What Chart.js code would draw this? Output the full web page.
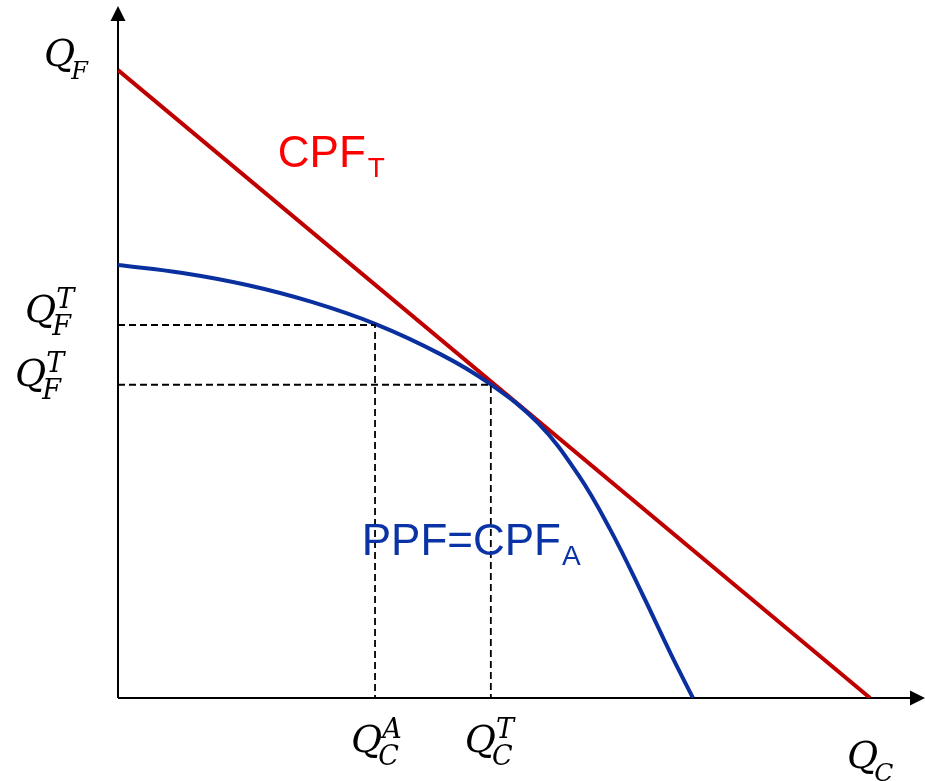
<!DOCTYPE html>
<html>
<head>
<meta charset="utf-8">
<script src="https://cdn.jsdelivr.net/npm/chart.js@4.4.1/dist/chart.umd.min.js"></script>
<style>
  html, body { margin: 0; padding: 0; background: #fff; }
  #wrap { width: 925px; height: 781px; position: relative; }
</style>
</head>
<body>
<div id="wrap"><canvas id="ppfChart"></canvas></div>
<script>
// production possibility frontier (autarky)
var ppfX = [0, 8, 16, 24, 32, 40, 46, 52, 57, 61, 65, 68.5, 71.25];
var ppfY = [62.75, 61.6, 59.85, 57.4, 54.15, 49.8, 45.6, 39.9, 32.4, 24.4, 15.0, 6.4, 0];

// consumption possibility frontier with trade (straight line)
var cpfX = [0, 93.2];
var cpfY = [91.0, 0];

// autarky and trade points (dashed guides)
var autarky = { x: 31.85, y: 54.06 };
var trade = { x: 46.2, y: 45.4 };

// turn x/y arrays into points for the scatter chart
function toPoints(xs, ys) {
  var pts = [];
  for (var i = 0; i < xs.length; i++) {
    pts.push({ x: xs[i], y: ys[i] });
  }
  return pts;
}

function guide(p) {
  return [{ x: 0, y: p.y }, { x: p.x, y: p.y }, { x: p.x, y: 0 }];
}

var mathFont = "italic 38px 'DejaVu Serif', serif";
var scriptFont = "italic 27px 'DejaVu Serif', serif";

// Q with sup/sub scripts, left edge x, baseline y
function drawQ(ctx, x, y, sup, sub, subFont) {
  ctx.font = mathFont;
  ctx.fillText("Q", x, y);
  var w = ctx.measureText("Q").width;
  ctx.font = subFont || scriptFont;
  if (sup) ctx.fillText(sup, x + w, y - 14);
  if (sub) ctx.fillText(sub, x + w - 4, y + 13);
}

var axesAndLabels = {
  id: "axesAndLabels",
  beforeDatasetsDraw: function (chart) {
    var ctx = chart.ctx;
    var xs = chart.scales.x, ys = chart.scales.y;
    var ox = xs.getPixelForValue(0), oy = ys.getPixelForValue(0);
    var area = chart.chartArea;
    ctx.save();
    ctx.strokeStyle = "#000";
    ctx.fillStyle = "#000";
    ctx.lineWidth = 2;
    ctx.beginPath();
    ctx.moveTo(ox, oy);
    ctx.lineTo(ox, area.top + 8);
    ctx.moveTo(ox, oy);
    ctx.lineTo(area.right - 10, oy);
    ctx.stroke();
    // arrow heads
    ctx.beginPath();
    ctx.moveTo(ox, area.top - 2);
    ctx.lineTo(ox - 7.5, area.top + 13);
    ctx.lineTo(ox + 7.5, area.top + 13);
    ctx.closePath();
    ctx.fill();
    ctx.beginPath();
    ctx.moveTo(area.right, oy);
    ctx.lineTo(area.right - 15, oy - 7.5);
    ctx.lineTo(area.right - 15, oy + 7.5);
    ctx.closePath();
    ctx.fill();
    ctx.restore();
  },
  afterDatasetsDraw: function (chart) {
    var ctx = chart.ctx;
    var xs = chart.scales.x, ys = chart.scales.y;
    var ox = xs.getPixelForValue(0);
    var oy = ys.getPixelForValue(0);
    ctx.save();
    ctx.fillStyle = "#000";
    ctx.textBaseline = "alphabetic";
    ctx.textAlign = "left";

    // axis titles
    drawQ(ctx, ox - 74, ys.getPixelForValue(100) + 58, null, "F", "italic 24px 'DejaVu Serif', serif");
    drawQ(ctx, xs.getPixelForValue(100) - 78, oy + 70, null, "C", "italic 25px 'DejaVu Serif', serif");

    // y-axis values
    drawQ(ctx, ox - 93, ys.getPixelForValue(autarky.y) - 3, "T", "F");
    drawQ(ctx, ox - 103, ys.getPixelForValue(trade.y) + 1, "T", "F");

    // x-axis values
    drawQ(ctx, xs.getPixelForValue(autarky.x) - 24, oy + 54, "A", "C");
    drawQ(ctx, xs.getPixelForValue(trade.x) - 26, oy + 54, "T", "C");

    // curve labels
    ctx.font = "44px 'Liberation Sans', Arial, sans-serif";
    ctx.fillStyle = "#FF0000";
    ctx.fillText("CPF", xs.getPixelForValue(19.8), ys.getPixelForValue(77));
    var w1 = ctx.measureText("CPF").width;
    ctx.font = "28px 'Liberation Sans', Arial, sans-serif";
    ctx.fillText("T", xs.getPixelForValue(19.8) + w1 + 2, ys.getPixelForValue(77) + 10);

    ctx.font = "44px 'Liberation Sans', Arial, sans-serif";
    ctx.fillStyle = "#0A33A6";
    ctx.fillText("PPF=CPF", xs.getPixelForValue(30.2), ys.getPixelForValue(20.7));
    var w2 = ctx.measureText("PPF=CPF").width;
    ctx.font = "28px 'Liberation Sans', Arial, sans-serif";
    ctx.fillText("A", xs.getPixelForValue(30.2) + w2 + 1, ys.getPixelForValue(20.7) + 10);
    ctx.restore();
  }
};

var ctx = document.getElementById("ppfChart").getContext("2d");
var ppfChart = new Chart(ctx, {
  type: "scatter",
  data: {
    datasets: [
      {
        label: "guide A",
        data: guide(autarky),
        showLine: true,
        borderColor: "#000",
        borderWidth: 1.8,
        borderDash: [7, 4],
        pointRadius: 0,
        fill: false
      },
      {
        label: "guide T",
        data: guide(trade),
        showLine: true,
        borderColor: "#000",
        borderWidth: 1.8,
        borderDash: [7, 4],
        pointRadius: 0,
        fill: false
      },
      {
        label: "PPF=CPF_A",
        data: toPoints(ppfX, ppfY),
        showLine: true,
        borderColor: "#0A30A0",
        borderWidth: 4,
        pointRadius: 0,
        tension: 0.4,
        fill: false
      },
      {
        label: "CPF_T",
        data: toPoints(cpfX, cpfY),
        showLine: true,
        borderColor: "#C00000",
        borderWidth: 4,
        pointRadius: 0,
        fill: false
      }
    ]
  },
  options: {
    responsive: true,
    maintainAspectRatio: false,
    animation: false,
    layout: { padding: { left: 118, right: 0, top: 8, bottom: 83 } },
    plugins: {
      legend: { display: false },
      tooltip: { enabled: false }
    },
    scales: {
      x: { type: "linear", min: 0, max: 100, display: false },
      y: { type: "linear", min: 0, max: 100, display: false }
    }
  },
  plugins: [axesAndLabels]
});
</script>
</body>
</html>
